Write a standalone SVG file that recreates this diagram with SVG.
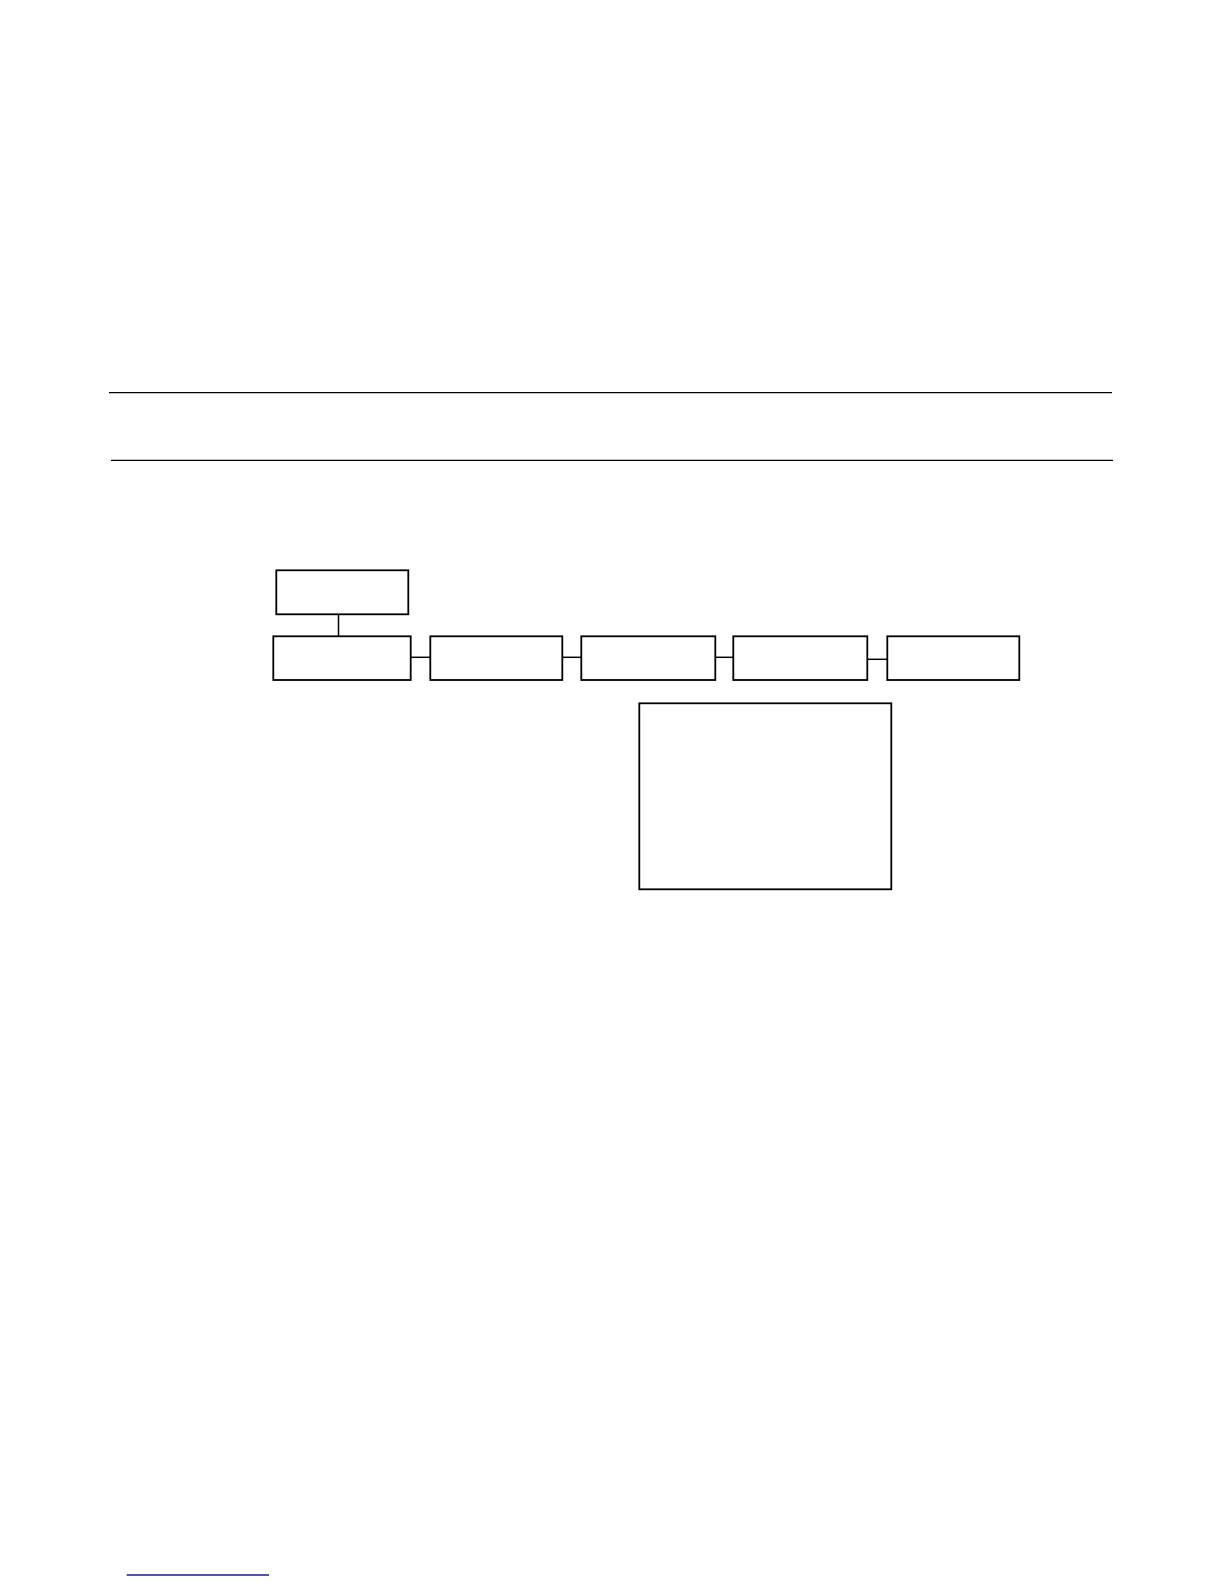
<svg xmlns="http://www.w3.org/2000/svg" width="1224" height="1584" viewBox="0 0 1224 1584">
<style>
.box{fill:#fff;stroke:#000;stroke-width:1.8}
.rule{stroke:#000;stroke-width:1.3;fill:none}
.conn{stroke:#000;stroke-width:1.5;fill:none}
</style>
<rect width="1224" height="1584" fill="#fff"/>
<line class="rule" x1="109" y1="392.7" x2="1112" y2="392.7"/>
<line class="rule" x1="111" y1="460.3" x2="1113" y2="460.3"/>
<g id="connectors">
<line class="conn" x1="338.5" y1="614.3" x2="338.5" y2="636.3"/>
<line class="conn" x1="410.7" y1="657.3" x2="430.3" y2="657.3"/>
<line class="conn" x1="562.3" y1="657.3" x2="581.3" y2="657.3"/>
<line class="conn" x1="715.3" y1="657.3" x2="734.3" y2="657.3"/>
<line class="conn" x1="866" y1="659.3" x2="887.3" y2="659.3"/>
</g>
<g id="top"><rect class="box" x="276.3" y="570.3" width="132" height="44"/></g>
<g id="n1"><rect class="box" x="273.3" y="636.3" width="137.4" height="43.7"/></g>
<g id="n2"><rect class="box" x="430.3" y="636.3" width="132" height="43.7"/></g>
<g id="n3"><rect class="box" x="581.3" y="636.3" width="134" height="43.7"/></g>
<g id="n4"><rect class="box" x="733.3" y="636.3" width="134" height="43.7"/></g>
<g id="n5"><rect class="box" x="887.3" y="636.3" width="132" height="43.7"/></g>
<g id="big"><rect class="box" x="639.3" y="703.3" width="252" height="186"/></g>
<line x1="126.7" y1="1575" x2="269" y2="1575" stroke="#1a1a8c" stroke-width="1.4"/>
</svg>
